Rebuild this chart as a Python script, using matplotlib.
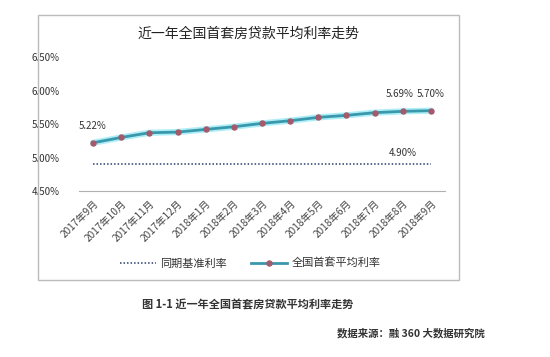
import matplotlib.pyplot as plt
from matplotlib.patches import Rectangle

plt.rcParams['font.family'] = ['Noto Sans CJK SC', 'DejaVu Sans']

months = ['2017年9月', '2017年10月', '2017年11月', '2017年12月', '2018年1月',
          '2018年2月', '2018年3月', '2018年4月', '2018年5月', '2018年6月',
          '2018年7月', '2018年8月', '2018年9月']
avg_rate = [5.22, 5.30, 5.37, 5.38, 5.42, 5.46, 5.51, 5.55, 5.60, 5.63, 5.67, 5.69, 5.70]
base_rate = [4.90] * len(months)
yticks = [4.5, 5.0, 5.5, 6.0, 6.5]

fig = plt.figure(figsize=(5.5, 3.57), dpi=100)
ax = fig.add_axes([0.1436, 0.465, 0.6655, 0.375])

x = list(range(len(months)))
ax.plot(x, base_rate, linestyle=(0, (1, 1.3)), color='#2b3f6b', linewidth=1.1,
        label='同期基准利率')
ax.plot(x, avg_rate, color='#9aeaf6', linewidth=4.5, alpha=0.8, solid_capstyle='round')
ax.plot(x, avg_rate, color='#3a98ac', linewidth=2, marker='o', markersize=3.6,
        markerfacecolor='#a45a6a', markeredgecolor='#a45a6a', label='全国首套平均利率')

ax.set_xlim(-0.5, len(months) - 0.5)
ax.set_ylim(4.5, 6.5)
ax.set_yticks(yticks)
ax.set_yticklabels(['%.2f%%' % v for v in yticks], fontsize=7, color='#333333',
                   ha='left')
ax.tick_params(axis='y', length=0, pad=34)
ax.set_xticks(x)
ax.set_xticklabels(months, rotation=45, ha='right', rotation_mode='anchor',
                   fontsize=7.3, color='#444444')
ax.tick_params(axis='x', length=0, pad=5)
for s in ['top', 'right', 'left']:
    ax.spines[s].set_visible(False)
ax.spines['bottom'].set_color('#b0b0b0')

# data labels
ax.annotate('%.2f%%' % avg_rate[0], (x[0], avg_rate[0]), xytext=(0, 10),
            textcoords='offset points', ha='center', fontsize=7, color='#333333')
ax.annotate('%.2f%%' % avg_rate[-2], (x[-2], avg_rate[-2]), xytext=(-2, 10),
            textcoords='offset points', ha='center', fontsize=7, color='#333333')
ax.annotate('%.2f%%' % avg_rate[-1], (x[-1], avg_rate[-1]), xytext=(0, 10),
            textcoords='offset points', ha='center', fontsize=7, color='#333333')
ax.annotate('%.2f%%' % base_rate[-2], (x[-2], base_rate[-2]), xytext=(0, 6),
            textcoords='offset points', ha='center', fontsize=7, color='#333333')

fig.text(0.451, 0.905, '近一年全国首套房贷款平均利率走势', ha='center', va='center',
         fontsize=10, color='#222222')

leg = fig.legend(loc='center', bbox_to_anchor=(0.455, 0.263), ncol=2, frameon=False,
                 fontsize=8, handlelength=3.2, columnspacing=2.2, handletextpad=0.4)
for t in leg.get_texts():
    t.set_color('#333333')

fig.patches.append(Rectangle((0.069, 0.216), 0.766, 0.742, transform=fig.transFigure,
                             fill=False, edgecolor='#bbbbbb', linewidth=1))

fig.text(0.451, 0.146, '图 1-1 近一年全国首套房贷款平均利率走势', ha='center', va='center',
         fontsize=8, color='#333333', fontweight='bold')
fig.text(0.882, 0.067, '数据来源：融 360 大数据研究院', ha='right', va='center',
         fontsize=7.5, color='#333333', fontweight='bold')

fig.savefig('out.png', dpi=100, facecolor='white')
